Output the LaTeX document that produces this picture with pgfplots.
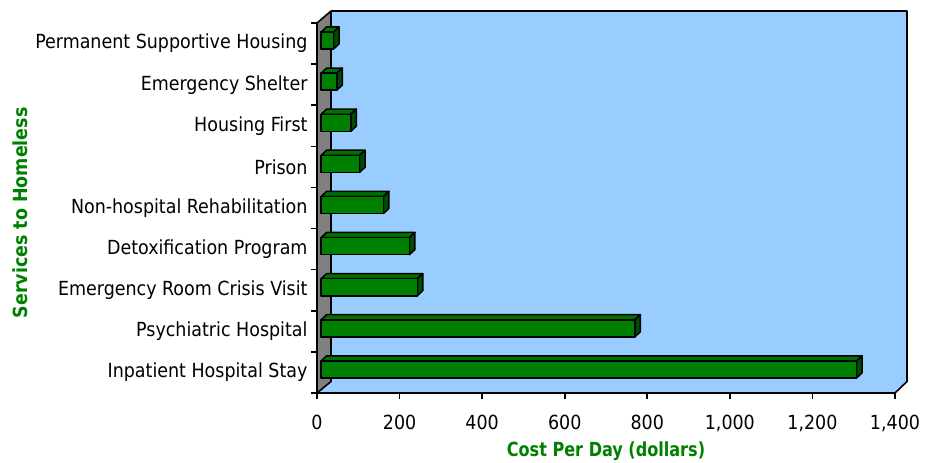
\documentclass[border=0pt]{standalone}
\usepackage{pgfplots}
\pgfplotsset{compat=1.18}
\usepackage{fontspec}
\setmainfont{DejaVu Sans Condensed}
\newfontfamily\xlabfont[FakeStretch=0.92]{DejaVu Sans Condensed}
\definecolor{wallblue}{HTML}{99CCFF}
\definecolor{wallgray}{HTML}{808080}
\definecolor{barface}{HTML}{008000}
\definecolor{bartop}{HTML}{007000}
\definecolor{barside}{HTML}{004C00}
\definecolor{labgreen}{HTML}{008000}
\begin{document}
\begin{tikzpicture}
\path[use as bounding box] (-317bp,-70bp) rectangle (617bp,393bp);
% walls (decoration)
\fill[wallblue] (0bp,0bp) -- (578bp,0bp) -- (590bp,11.5bp) -- (590bp,382bp) -- (14bp,382bp) -- (14bp,11.5bp) -- cycle;
\draw[line width=1.6bp, line join=round] (0bp,0bp) -- (578bp,0bp) -- (590bp,11.5bp) -- (590bp,382bp) -- (14bp,382bp);
\filldraw[fill=wallgray, line width=1.6bp, line join=round] (0bp,0bp) -- (0bp,370bp) -- (14bp,382bp) -- (14bp,11.5bp) -- cycle;
\begin{axis}[
  at={(0bp,0bp)}, anchor=south west,
  scale only axis, width=578bp, height=370bp,
  xmin=0, xmax=1400, ymin=0, ymax=9,
  clip=false,
  axis x line*=bottom, axis y line*=left,
  axis line style={line width=1.6bp, black, -},
  every tick/.style={line width=1.6bp, black},
  tick align=outside, major tick length=6bp,
  xtick={0,200,...,1400},
  scaled x ticks=false,
  /pgf/number format/.cd, 1000 sep={,}, assume math mode=true, /pgfplots/.cd,
  ytick={0,...,9}, yticklabels={,,,,,,,,,},
  extra y ticks={0.5,1.5,...,8.5},
  extra y tick labels={Inpatient Hospital Stay, Psychiatric Hospital, Emergency Room Crisis Visit, Detoxification Program, Non-hospital Rehabilitation, Prison, Housing First, Emergency Shelter, Permanent Supportive Housing},
  extra y tick style={tick style={draw=none}},
  ticklabel style={font=\fontsize{19.5}{23}\selectfont, black},
  xticklabel style={yshift=-13bp},
  xlabel={Cost Per Day (dollars)},
  ylabel={Services to Homeless},
  every axis x label/.style={at={(axis description cs:0.5,-0.158)}, anchor=center, font=\xlabfont\fontsize{19.5}{23}\selectfont\bfseries, text=labgreen},
  every axis y label/.style={at={(axis description cs:-0.513,0.487)}, rotate=90, anchor=center, font=\fontsize{19.5}{23}\selectfont\bfseries, text=labgreen},
]
\pgfplotsforeachungrouped \i/\v in {0/1297, 1/760, 2/233, 3/214, 4/151, 5/93, 6/72, 7/38, 8/30} {
  \pgfmathsetmacro\xa{10}
  \pgfmathsetmacro\xb{10+\v}
  \pgfmathsetmacro\xc{10+\v+13.3}
  \pgfmathsetmacro\xd{10+13.3}
  \pgfmathsetmacro\ya{\i+0.365}
  \pgfmathsetmacro\yb{\i+0.78}
  \pgfmathsetmacro\yc{\i+0.78+0.125}
  \pgfmathsetmacro\yd{\i+0.365+0.125}
  \edef\temp{%
    \noexpand\addplot[fill=bartop, draw=black, line width=1.5bp, line join=round] coordinates {(\xa,\yb) (\xb,\yb) (\xc,\yc) (\xd,\yc)} -- cycle;
    \noexpand\addplot[fill=barside, draw=black, line width=1.5bp, line join=round] coordinates {(\xb,\ya) (\xc,\yd) (\xc,\yc) (\xb,\yb)} -- cycle;
    \noexpand\addplot[fill=barface, draw=black, line width=1.5bp, line join=round] coordinates {(\xa,\ya) (\xb,\ya) (\xb,\yb) (\xa,\yb)} -- cycle;
  }%
  \temp
}
\end{axis}
\end{tikzpicture}
\end{document}
